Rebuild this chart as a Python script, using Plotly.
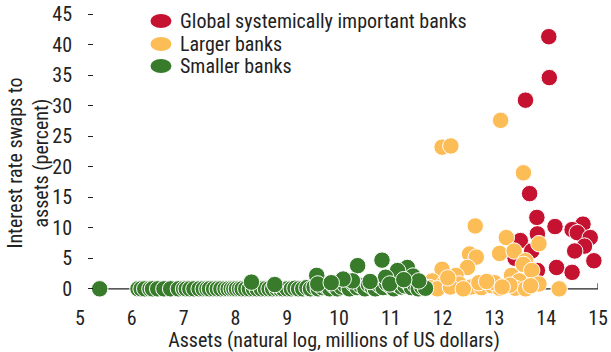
import plotly.graph_objects as go

# Global systemically important banks
gsib_x = [14.05, 14.06, 13.60, 13.68, 13.82, 14.17, 13.83, 13.50, 13.72, 14.71,
          14.50, 14.60, 14.85, 14.74, 14.55, 14.92, 14.20, 14.50, 13.83, 13.40]
gsib_y = [41.3, 34.6, 30.9, 15.6, 11.7, 10.2, 9.0, 7.9, 6.2, 10.6,
          9.7, 9.2, 8.4, 7.0, 6.2, 4.6, 3.5, 2.7, 3.0, 5.0]

# Larger banks
large_x = [11.99, 12.16, 13.12, 13.56, 12.63, 13.23, 13.86, 12.52, 12.65, 13.10,
           13.38, 13.60, 13.56, 12.48, 11.99, 12.26, 13.72, 13.33, 13.48, 13.86,
           12.86, 11.80, 12.02, 12.32, 12.55, 12.75, 12.95, 13.10, 13.40, 13.60,
           14.25, 11.75, 11.90, 12.15, 12.40, 12.70, 13.00, 13.30, 13.70, 12.10,
           12.85, 13.15]
large_y = [23.2, 23.4, 27.6, 19.0, 10.3, 8.4, 7.4, 5.7, 5.2, 5.8,
           6.2, 4.6, 4.0, 3.5, 3.2, 2.2, 3.0, 2.2, 1.3, 0.8,
           0.8, 1.3, 0.8, 0.8, 0.3, 0.2, 0.5, 0.1, 0.1, 0.0,
           0.0, 0.2, 0.0, 0.3, 0.0, 1.0, 1.0, 0.6, 0.5, 1.8,
           1.2, 0.3]

# Smaller banks
small_x = [5.38, 6.12, 6.18, 6.25, 6.35, 6.40, 6.50, 6.62, 6.75, 6.90,
           7.00, 7.05, 7.12, 7.20, 7.30, 7.38, 7.45, 7.50, 7.58, 7.65,
           7.72, 7.80, 7.86, 7.92, 7.97, 8.02, 8.08, 8.13, 8.20, 8.27,
           8.35, 8.42, 8.50, 8.58, 8.65, 8.72, 8.80, 8.86, 8.92, 9.00,
           9.08, 9.15, 9.22, 9.30, 9.38, 9.45, 9.52, 9.60, 9.68, 9.75,
           9.82, 9.90, 9.97, 10.05, 10.12, 10.20, 10.28, 10.35, 10.42, 10.50,
           10.57, 10.64, 10.70, 10.78, 10.85, 10.92, 11.00, 11.06, 11.12, 11.20,
           11.27, 11.33, 11.40, 11.47, 11.53, 11.60, 11.67,
           10.83, 10.36, 11.32, 11.13, 10.90, 11.43, 11.54, 9.57, 8.31, 8.76,
           10.26, 10.08, 9.59, 10.98, 10.60, 9.85, 11.25]
small_y = [0.0, 0.0, 0.0, 0.0, 0.0, 0.0, 0.0, 0.0, 0.0, 0.0,
           0.0, 0.0, 0.0, 0.0, 0.0, 0.0, 0.0, 0.0, 0.0, 0.0,
           0.0, 0.0, 0.0, 0.0, 0.0, 0.0, 0.0, 0.0, 0.0, 0.0,
           0.0, 0.0, 0.0, 0.0, 0.0, 0.0, 0.0, 0.0, 0.0, 0.0,
           0.0, 0.1, 0.0, 0.0, 0.2, 0.0, 0.3, 0.0, 0.2, 0.4,
           0.0, 0.5, 0.0, 0.3, 0.6, 0.0, 0.8, 0.2, 0.5, 0.0,
           0.7, 0.3, 0.0, 0.6, 0.2, 0.9, 0.4, 0.0, 0.7, 0.3,
           0.5, 1.0, 0.2, 0.6, 0.0, 0.3, 0.1,
           4.7, 3.8, 3.5, 3.0, 1.9, 2.1, 1.3, 2.2, 1.1, 0.7,
           1.3, 1.6, 0.8, 0.8, 1.2, 1.0, 1.5]

names = ["Global systemically important banks", "Larger banks", "Smaller banks"]
colors = ["#c41230", "#fdbd56", "#387b2b"]

FONT = "Roboto Condensed, sans-serif"

fig = go.Figure()

def add_group(x, y, color, name):
    fig.add_trace(go.Scatter(
        x=x, y=y, mode="markers", name=name, cliponaxis=False, showlegend=False,
        marker=dict(size=16.5, color=color, line=dict(color="white", width=1)),
    ))

add_group(gsib_x, gsib_y, colors[0], names[0])
add_group(large_x, large_y, colors[1], names[1])
add_group(small_x, small_y, colors[2], names[2])

# axis line at zero with the end tick at 15
fig.add_shape(type="line", x0=5.25, x1=15, y0=0, y1=0, layer="below",
              line=dict(color="#222", width=1.2))
fig.add_shape(type="line", x0=15, x1=15, y0=0, y1=0.9, layer="below",
              line=dict(color="#222", width=1.2))

# legend drawn by hand (oval swatches like the original)
leg_y = [0.955, 0.876, 0.800]
for name, color, ly in zip(names, colors, leg_y):
    fig.add_shape(type="circle", xref="paper", yref="paper",
                  xsizemode="pixel", ysizemode="pixel",
                  xanchor=0.1723, yanchor=ly, x0=-10.5, x1=10.5, y0=-7, y1=7,
                  fillcolor=color, line=dict(width=0))
    fig.add_annotation(text=name, xref="paper", yref="paper", x=0.2045, y=ly,
                       xanchor="left", yanchor="middle", showarrow=False,
                       font=dict(size=20, color="#222", family=FONT))

fig.add_annotation(
    text="Interest rate swaps to<br>assets (percent)", textangle=-90,
    xref="paper", yref="paper", x=-0.08, y=0.466, xanchor="center", yanchor="middle",
    showarrow=False, font=dict(size=20, color="#222", family=FONT),
)

fig.update_layout(
    width=611, height=352,
    margin=dict(l=70, r=13, t=8, b=54, autoexpand=False),
    paper_bgcolor="white", plot_bgcolor="white",
    font=dict(family=FONT, size=20, color="#222"),
    showlegend=False,
    xaxis=dict(range=[4.807, 15], tickvals=[5, 6, 7, 8, 9, 10, 11, 12, 13, 14, 15],
               showgrid=False, zeroline=False, showline=False, automargin=False,
               ticks="outside", ticklen=2, tickcolor="rgba(0,0,0,0)",
               title=dict(text="Assets (natural log, millions of US dollars)",
                          standoff=0, font=dict(size=20))),
    yaxis=dict(range=[-1.5, 46], tickvals=[0, 5, 10, 15, 20, 25, 30, 35, 40, 45],
               anchor="free", position=0.0436, side="left", automargin=False,
               showgrid=False, zeroline=False, showline=False,
               ticks="outside", ticklen=5, tickcolor="#222", ticklabelstandoff=12),
)

# drop the page's default 8px body margin so the figure sits at the corner
fig.write_html("out.html", config={"displayModeBar": False},
               post_script="document.body.style.margin='0';")
